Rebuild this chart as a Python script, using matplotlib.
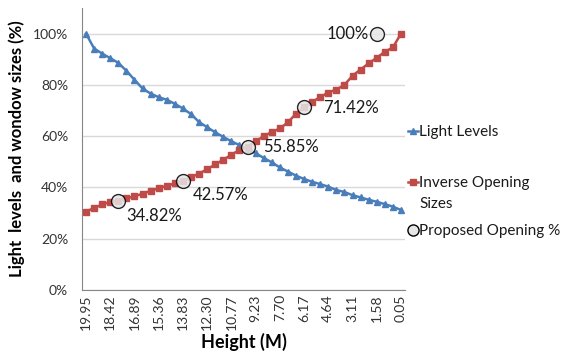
import numpy as np
import matplotlib.pyplot as plt
from matplotlib.ticker import PercentFormatter, FixedLocator
from matplotlib.lines import Line2D

plt.rcParams['font.family'] = ['Lato', 'DejaVu Sans']

# category axis: 40 heights, labelled every 3rd one
height_labels = ['19.95', '18.42', '16.89', '15.36', '13.83', '12.30', '10.77',
                 '9.23', '7.70', '6.17', '4.64', '3.11', '1.58', '0.05']
label_every = 3

light_levels = [100, 94.2, 92.2, 90.4, 88.6, 85.5, 82.0, 78.6, 76.6, 75.2,
                74.2, 72.6, 70.8, 68.6, 65.5, 63.5, 61.5, 59.7, 58.0, 56.5,
                55.0, 53.4, 51.5, 49.8, 47.8, 46.2, 44.6, 43.3, 42.2, 41.3,
                40.3, 39.0, 38.2, 37.0, 36.1, 35.2, 34.4, 33.5, 32.5, 31.2]

inverse_sizes = [30.6, 32.0, 33.4, 34.3, 34.82, 35.8, 36.5, 37.6, 38.7, 39.7,
                 40.6, 41.6, 42.57, 44.0, 45.4, 47.1, 49.0, 50.8, 52.8, 54.6,
                 55.85, 58.0, 60.0, 61.6, 63.0, 65.4, 68.8, 71.42, 73.3, 75.3,
                 77.0, 78.2, 80.0, 83.6, 86.0, 88.4, 90.6, 92.9, 94.6, 100]

proposed_at = [4, 12, 20, 27, 36]
proposed_vals = [34.82, 42.57, 55.85, 71.42, 100]
proposed_text = ['34.82%', '42.57%', '55.85%', '71.42%', '100%']
# label offsets in points (dx, dy, ha)
text_offsets = [(6, -11, 'left'), (7, -10, 'left'), (11, 0, 'left'),
                (14, -1, 'left'), (-6, 0, 'right')]

blue = '#4A7EBB'
red = '#BE4B48'

W, H = 574, 356
fig = plt.figure(figsize=(W / 100, H / 100), dpi=100)
ax = fig.add_axes([82 / W, 1 - 290 / H, 323 / W, 282 / H])

n = len(light_levels)
x = np.arange(n)
ax.plot(x, np.array(light_levels) / 100, color=blue, lw=1.8, marker='^',
        ms=5, mec=blue, mfc=blue, zorder=3)
ax.plot(x, np.array(inverse_sizes) / 100, color=red, lw=1.8, marker='s',
        ms=4.5, mec=red, mfc=red, zorder=3)
ax.plot(proposed_at, np.array(proposed_vals) / 100, ls='none', marker='o',
        ms=10, mfc='#E6E6E6', mec='black', mew=1.0, alpha=0.85, zorder=4)

for i, v, t, (dx, dy, ha) in zip(proposed_at, proposed_vals, proposed_text, text_offsets):
    ax.annotate(t, (i, v / 100), xytext=(dx, dy), textcoords='offset points',
                ha=ha, va='center', fontsize=12, color='#1a1a1a')

ax.set_xlim(-0.5, n - 0.5)
ax.set_ylim(0, 1.1)
ax.yaxis.set_major_locator(FixedLocator([0, 0.2, 0.4, 0.6, 0.8, 1.0]))
ax.yaxis.set_major_formatter(PercentFormatter(1.0, decimals=0))
ax.set_xticks(x[::label_every])
ax.set_xticklabels(height_labels, rotation=90)
ax.tick_params(axis='both', length=0, labelsize=10, colors='#333333')
ax.tick_params(axis='x', pad=3)
ax.tick_params(axis='y', pad=10)

ax.grid(axis='y', color='#D9D9D9', lw=1)
ax.set_axisbelow(True)
for s in ['top', 'right']:
    ax.spines[s].set_visible(False)
for s in ['left', 'bottom']:
    ax.spines[s].set_color('#868686')

ax.set_xlabel('Height (M)', fontsize=13, fontweight='bold', labelpad=2)
ax.set_ylabel('Light  levels  and wondow sizes (%)', fontsize=12,
              fontweight='bold', labelpad=6)

# legend drawn by hand so the key sits on the first line of a wrapped label
legend_items = [
    (dict(color=blue, lw=1.8, marker='^', ms=5, markevery=[1]), 'Light Levels', 131),
    (dict(color=red, lw=1.8, marker='s', ms=4.5, markevery=[1]), 'Inverse Opening\nSizes', 182),
    (dict(ls='none', marker='o', ms=8, mfc='#E6E6E6', mec='black', markevery=[1]),
     'Proposed Opening %', 230),
]
for style, label, ypx in legend_items:
    yf = 1 - ypx / H
    fig.add_artist(Line2D([408 / W, 413 / W, 418 / W], [yf, yf, yf],
                          transform=fig.transFigure, **style))
    first_line_h = 6  # px above the key where the first text line starts
    fig.text(419 / W, yf + first_line_h / H, label, ha='left', va='top',
             fontsize=11, color='#1a1a1a', linespacing=1.6)

fig.savefig('out.png', dpi=100)
